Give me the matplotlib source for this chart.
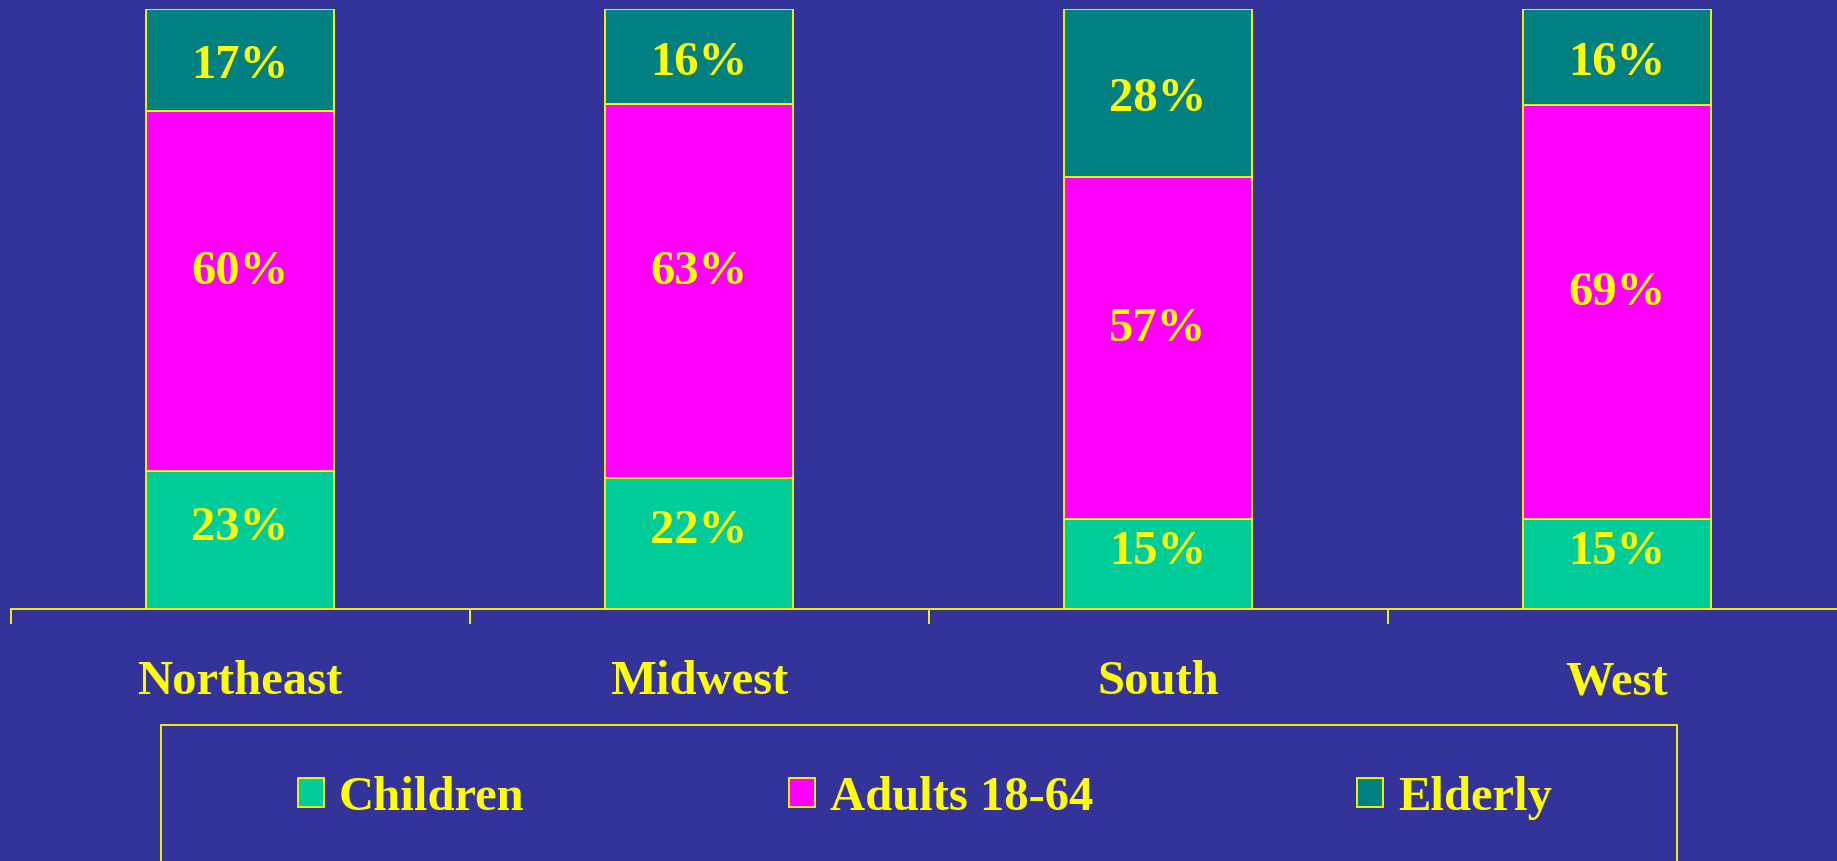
import matplotlib
matplotlib.use("Agg")
import matplotlib.pyplot as plt
from matplotlib.patches import Rectangle, Patch
import numpy as np

regions = ["Northeast", "Midwest", "South", "West"]
children = [23, 22, 15, 15]
adults = [60, 63, 57, 69]
elderly = [17, 16, 28, 16]
series_names = ["Children", "Adults 18-64", "Elderly"]

BG = "#333399"
YEL = "#FFFF00"
colors = ["#00CC99", "#FF00FF", "#008080"]
# vertical nudge of the value labels per series, in points
label_nudge = [9, 14, -4.5]
FS = 35

plt.rcParams["font.family"] = ["Liberation Serif", "DejaVu Serif"]
plt.rcParams["font.weight"] = "bold"

fig = plt.figure(figsize=(18.37, 8.61), dpi=100, facecolor=BG)
ax = fig.add_axes([10.5 / 1837, 252 / 861, 1836 / 1837, 600 / 861])
ax.set_facecolor(BG)

data = np.array([children, adults, elderly], dtype=float)
shares = data / data.sum(axis=0) * 100  # 100% stacked
x = np.arange(len(regions))
bottom = np.zeros(len(regions))
for i, name in enumerate(series_names):
    ax.bar(x, shares[i], 0.41, bottom=bottom, color=colors[i],
           edgecolor=YEL, linewidth=1.3, label=name, zorder=2)
    for j in range(len(regions)):
        ax.annotate(f"{int(data[i][j])}%", (x[j], bottom[j] + shares[i][j] / 2),
                    xytext=(0, label_nudge[i]), textcoords="offset points",
                    ha="center", va="center", color=YEL, fontsize=FS,
                    fontweight="bold", zorder=3)
    bottom += shares[i]

ax.set_xlim(-0.5, len(regions) - 0.5)
ax.set_ylim(0, 100)
for s in ["top", "right", "left"]:
    ax.spines[s].set_visible(False)
ax.spines["bottom"].set_color(YEL)
ax.spines["bottom"].set_linewidth(1.3)
ax.set_yticks([])
ax.set_xticks(np.arange(len(regions)) - 0.5)
ax.set_xticklabels([])
ax.tick_params(axis="x", direction="out", length=10.5, width=1.3, color=YEL)

for j, r in enumerate(regions):
    ax.text(x[j], -0.1417, r, transform=ax.get_xaxis_transform(),
            ha="center", va="baseline", color=YEL, fontsize=FS, fontweight="bold")

# legend with a separate frame (box runs off the bottom of the slide)
px = FS * 100 / 72
handles = [Patch(facecolor=c, edgecolor=YEL, linewidth=1.3) for c in colors]
leg = fig.legend(handles, series_names, loc="center", bbox_to_anchor=(925 / 1837, 63 / 861),
                 ncol=3, frameon=False, handlelength=26 / px, handleheight=26 / px,
                 handletextpad=15 / px, columnspacing=264 / px, labelcolor=YEL,
                 prop={"weight": "bold", "size": FS})
fig.add_artist(Rectangle((160.5 / 1837, -0.2), 1516 / 1837, 0.2 + 136 / 861,
                         transform=fig.transFigure, facecolor="none",
                         edgecolor=YEL, linewidth=1.3))

fig.savefig("out.png", dpi=100, facecolor=BG)
